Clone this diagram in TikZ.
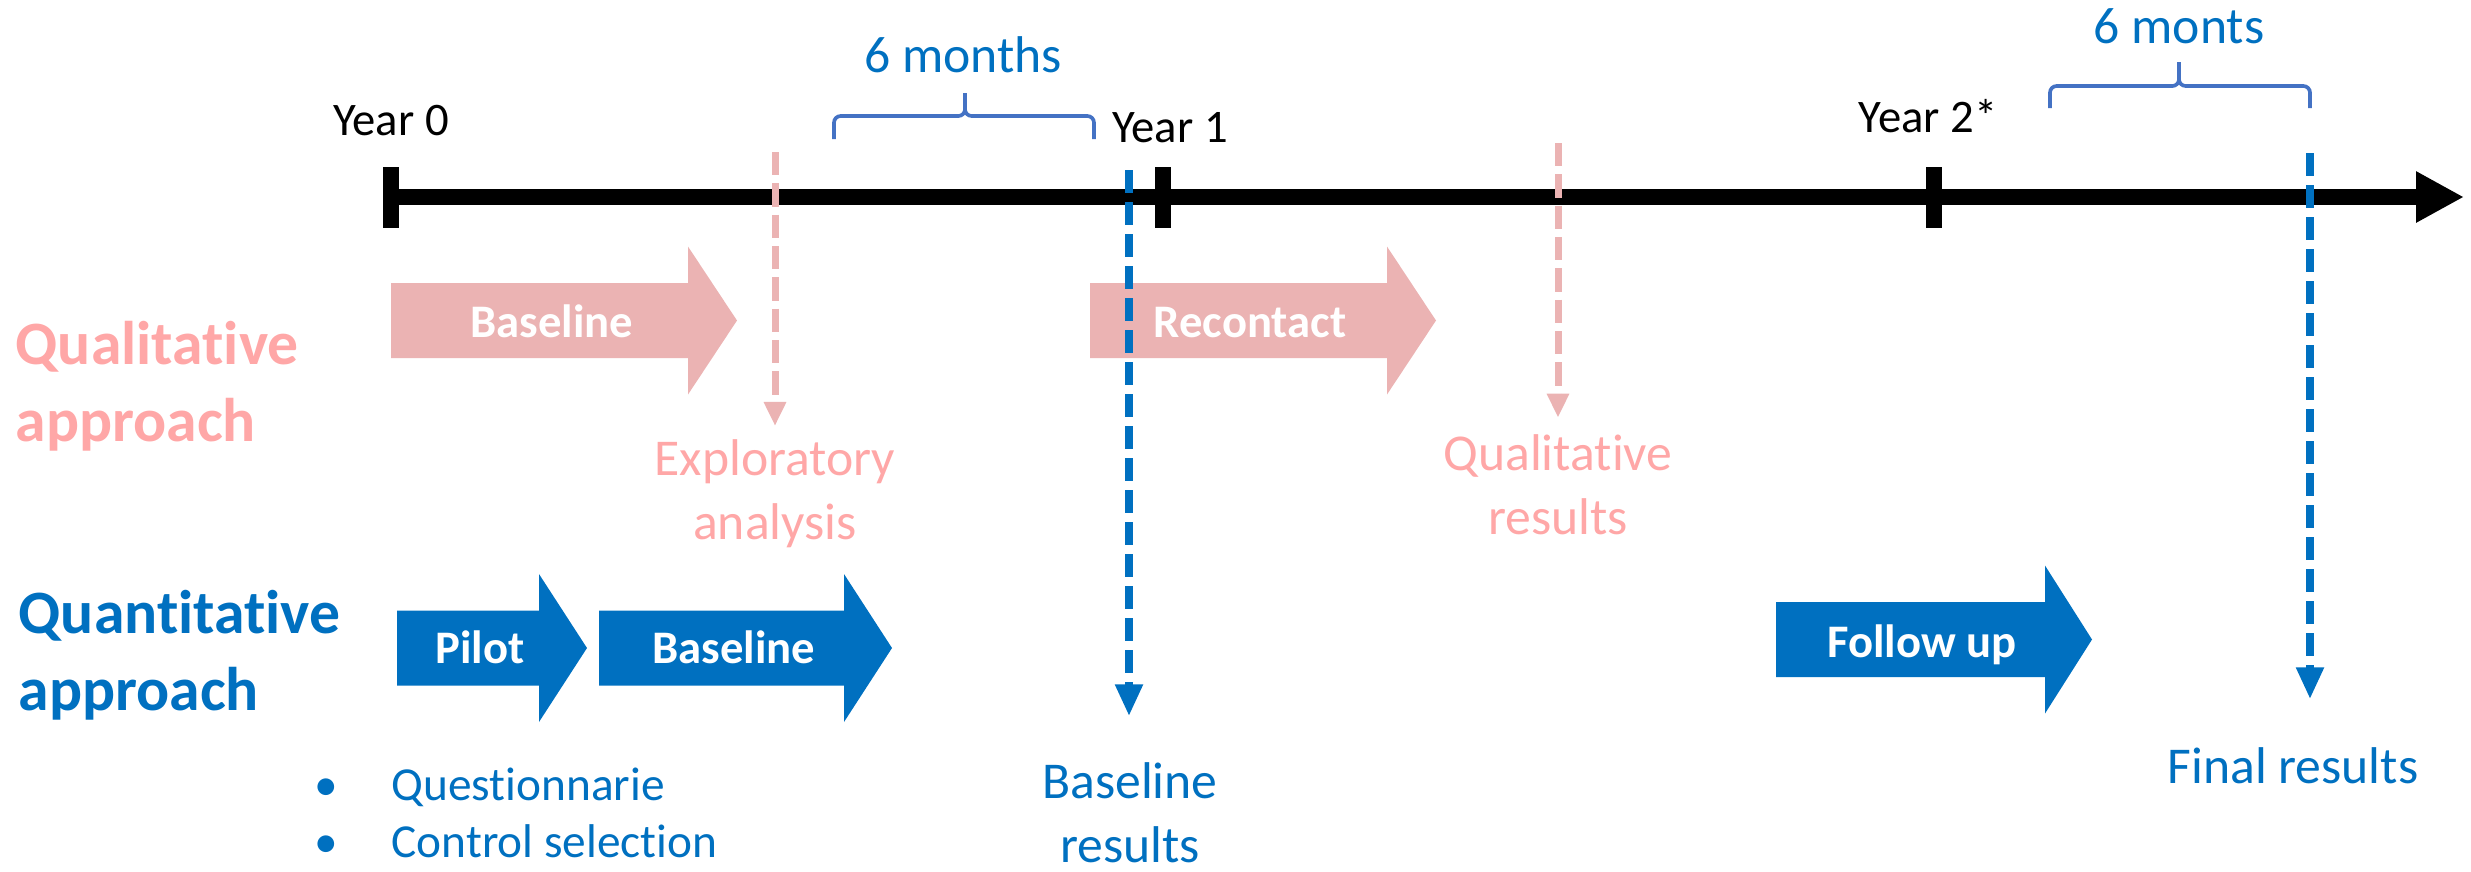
\documentclass[tikz,border=0pt]{standalone}
\usepackage{fontspec}
\setmainfont{Carlito}[Ligatures={TeX,NoCommon}]
\usetikzlibrary{arrows.meta}
\definecolor{qualtxt}{HTML}{FFA7A7}
\definecolor{qualfill}{HTML}{EBB3B3}
\definecolor{quantblue}{HTML}{0070C0}
\definecolor{bracecol}{HTML}{4472C4}
\tikzstyle{yearlabel} = [font=\fontsize{14}{17}\selectfont, anchor=base, inner sep=0pt]
\tikzstyle{bracelabel} = [font=\fontsize{15.5}{19}\selectfont, text=quantblue, anchor=base, inner sep=0pt]
\tikzstyle{resultlabel} = [font=\fontsize{15.5}{19.3}\selectfont, anchor=base, inner sep=0pt]
\tikzstyle{approach} = [font=\fontsize{18.5}{23.1}\selectfont\bfseries, anchor=base west, inner sep=0pt]
\tikzstyle{arrowlabel} = [font=\fontsize{14}{17}\selectfont\bfseries, text=white, anchor=base, inner sep=0pt]
\tikzstyle{timeline} = [line width=4.8pt, -{Triangle[length=14.4pt, width=14.4pt]}]
\tikzstyle{tick} = [line width=4.8pt]
\tikzstyle{brace} = [draw=bracecol, line width=1.1pt, rounded corners=2pt]
\tikzstyle{qualdash} = [draw=qualfill, line width=2.1pt, dash pattern=on 7pt off 2.4pt, -{Triangle[length=7.2pt, width=6.3pt]}]
\tikzstyle{quantdash} = [draw=quantblue, line width=2.4pt, dash pattern=on 7pt off 2.6pt, -{Triangle[length=9.6pt, width=7.8pt]}]
% block arrow: style, start x, head base x, tip x, centre y
\newcommand{\blockarrow}[5]{%
  \fill[#1] (#2,#5-37.5) -- (#3,#5-37.5) -- (#3,#5-74) -- (#4,#5)
    -- (#3,#5+74) -- (#3,#5+37.5) -- (#2,#5+37.5) -- cycle;}
\begin{document}
\begin{tikzpicture}[x=0.3pt, y=-0.3pt]
\useasboundingbox (0,0) rectangle (2471,871);
% Time axis
\draw [timeline] (391,197) -- (2464,197);
\foreach \tx in {391,1163,1934}
  \draw [tick] (\tx,167) -- (\tx,228);
\node (year0) [yearlabel] at (391,135) {Year 0};
\node (year1) [yearlabel] at (1170,142) {Year 1};
\node (year2) [yearlabel] at (1928,132) {Year 2*};
% Braces
\draw [brace] (834,139) -- (834,116) -- (965,116) -- (965,93);
\draw [brace] (1094,139) -- (1094,116) -- (965,116) -- (965,93);
\node (months1) [bracelabel] at (963,72) {6 months};
\draw [brace] (2050,108) -- (2050,86) -- (2179,86) -- (2179,62);
\draw [brace] (2310,108) -- (2310,86) -- (2179,86) -- (2179,62);
\node (months2) [bracelabel] at (2179,43) {6 monts};
% Row titles
\node (qual) [approach, text=qualtxt] at (15,364)
{\begin{tabular}[t]{@{}l@{}}Qualitative\\approach\end{tabular}};
\node (quant) [approach, text=quantblue] at (18,633)
{\begin{tabular}[t]{@{}l@{}}Quantitative\\approach\end{tabular}};
% Block arrows
\blockarrow{qualfill}{391}{688}{737}{320.5}
\blockarrow{qualfill}{1090}{1387}{1436}{320.5}
\blockarrow{quantblue}{397}{539}{587}{648}
\blockarrow{quantblue}{599}{844}{892}{648}
\blockarrow{quantblue}{1776}{2045}{2092}{639.5}
\node (qualbase) [arrowlabel] at (552,337) {Baseline};
\node (recontact) [arrowlabel] at (1250,337) {Recontact};
\node (pilot) [arrowlabel] at (480,663) {Pilot};
\node (quantbase) [arrowlabel] at (734,663) {Baseline};
\node (followup) [arrowlabel] at (1922,657) {Follow up};
% Results
\node (explo) [resultlabel, text=qualtxt] at (775,475)
{\begin{tabular}[t]{@{}c@{}}Exploratory\\analysis\end{tabular}};
\node (qualres) [resultlabel, text=qualtxt] at (1558,470)
{\begin{tabular}[t]{@{}c@{}}Qualitative\\results\end{tabular}};
\node (baseres) [resultlabel, text=quantblue] at (1130,798)
{\begin{tabular}[t]{@{}c@{}}Baseline\\results\end{tabular}};
\node (finalres) [resultlabel, text=quantblue] at (2293,783)
{\begin{tabular}[t]{@{}c@{}}Final results\end{tabular}};
\node (tasks) [font=\fontsize{14.2}{17.1}\selectfont, text=quantblue, anchor=base west, inner sep=0pt] at (314,800)
{\begin{tabular}[t]{@{}l@{\hspace{16pt}}l@{}}\textbullet & Questionnarie\\\textbullet & Control selection\end{tabular}};
% Dashed arrows
\coordinate (explostart) at (775,152);
\coordinate (qualresstart) at (1558,143);
\coordinate (baseresstart) at (1129,170);
\coordinate (finalresstart) at (2310,153);
\draw [qualdash, shorten >=1pt] (explostart) -- (explo.north);
\draw [qualdash, shorten >=2pt] (qualresstart) -- (qualres.north);
\draw [quantdash, shorten >=10.8pt] (baseresstart) -- (baseres.north -| baseresstart);
\draw [quantdash, shorten >=11.4pt] (finalresstart) -- (finalres.north -| finalresstart);
\end{tikzpicture}
\end{document}
